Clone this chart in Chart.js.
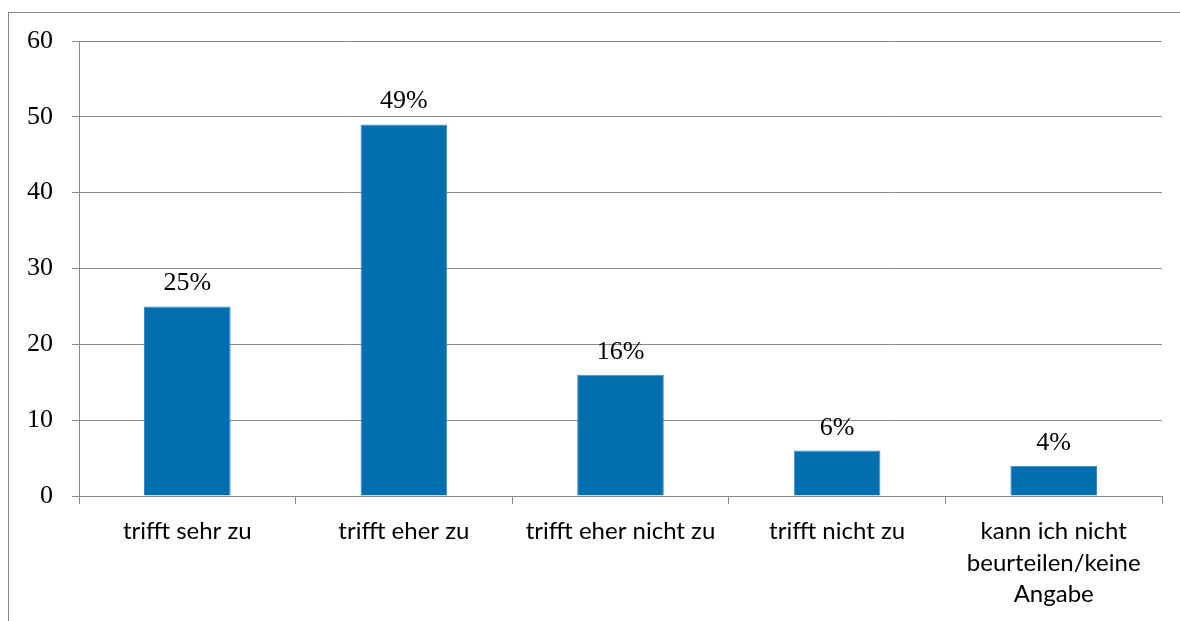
<!DOCTYPE html>
<html><head><meta charset="utf-8">
<script src="https://cdn.jsdelivr.net/npm/chart.js@4/dist/chart.umd.min.js"></script>
<style>
html,body{margin:0;padding:0;background:#fff;overflow:hidden;}
#wrap{position:relative;width:1180px;height:621px;}
#frame{position:absolute;left:8px;top:12px;width:1300px;height:800px;border:1px solid #898989;box-sizing:border-box;}
canvas{position:absolute;left:0;top:0;}
</style></head>
<body><div id="wrap"><div id="frame"></div><canvas id="c" width="1180" height="621"></canvas></div>
<script>
const categories = ["trifft sehr zu", "trifft eher zu", "trifft eher nicht zu", "trifft nicht zu", ["kann ich nicht", "beurteilen/keine", "Angabe"]];
const values = [25, 49, 16, 6, 4];
const valueLabels = ["25%", "49%", "16%", "6%", "4%"];
const yTicks = [0, 10, 20, 30, 40, 50, 60];

const gray = '#898989';
const serif = "'Liberation Serif', serif";

const labelPlugin = {
  id: 'valLabels',
  afterDatasetsDraw(chart) {
    const ctx = chart.ctx;
    const meta = chart.getDatasetMeta(0);
    ctx.save();
    ctx.font = "26px " + serif;
    ctx.fillStyle = '#000';
    ctx.textAlign = 'center';
    ctx.textBaseline = 'alphabetic';
    meta.data.forEach((bar, i) => {
      ctx.fillText(valueLabels[i], bar.x, bar.y - 16);
    });
    ctx.restore();
  }
};

new Chart(document.getElementById('c'), {
  type: 'bar',
  data: {
    labels: categories,
    datasets: [{
      data: values,
      backgroundColor: '#006EAF',
      borderColor: '#3A8AC6',
      borderWidth: 1,
      barPercentage: 0.4,
      categoryPercentage: 1.0
    }]
  },
  options: {
    responsive: false,
    animation: false,
    devicePixelRatio: 1,
    layout: { padding: { top: 41, right: 18, left: 0, bottom: 0 } },
    plugins: { legend: { display: false }, tooltip: { enabled: false } },
    scales: {
      x: {
        offset: true,
        grid: { offset: true, drawOnChartArea: false, drawTicks: true, tickLength: 8, color: gray, lineWidth: 1 },
        border: { display: true, color: gray, width: 1 },
        ticks: { color: '#000', font: { family: "Lato, sans-serif", size: 24, lineHeight: 1.31 }, padding: 12, maxRotation: 0, autoSkip: false },
        afterFit(s) { s.height = 125; }
      },
      y: {
        min: 0, max: 60,
        afterBuildTicks(s) { s.ticks = yTicks.map(v => ({ value: v })); },
        grid: { color: gray, lineWidth: 1, tickLength: 7, drawTicks: true },
        border: { display: true, color: gray, width: 1 },
        ticks: { color: '#000', font: { family: serif, size: 26 }, padding: 19 },
        afterFit(s) { s.width = 79; }
      }
    }
  },
  plugins: [labelPlugin]
});
</script></body></html>
